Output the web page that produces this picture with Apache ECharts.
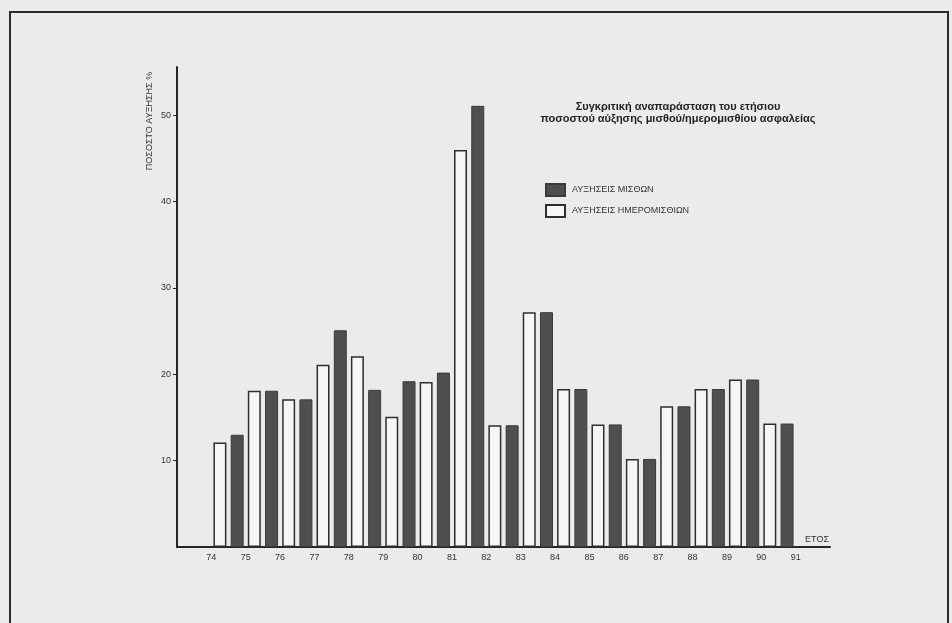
<!DOCTYPE html>
<html>
<head>
<meta charset="utf-8">
<script src="https://cdn.jsdelivr.net/npm/echarts@6/dist/echarts.min.js"></script>
<style>
  html, body { margin: 0; padding: 0; background: #ebebe9; }
  #chart { width: 952px; height: 623px; }
</style>
</head>
<body>
<div id="chart"></div>
<script>
// Tick labels on the year axis (boundaries between the yearly periods)
const years = ['74','75','76','77','78','79','80','81','82','83','84','85','86','87','88','89','90','91'];
// Periods (one pair of bars each), padded with an empty slot at each end of the axis
const periods = ['', '74-75','75-76','76-77','77-78','78-79','79-80','80-81','81-82','82-83','83-84','84-85','85-86','86-87','87-88','88-89','89-90','90-91', ''];
// Annual % increase of wages (ΜΙΣΘΩΝ) – dark bars
const salaries = [13.0, 18.1, 17.1, 25.1, 18.2, 19.2, 20.2, 51.1, 14.1, 27.2, 18.3, 14.2, 10.2, 16.3, 18.3, 19.4, 14.3];
// Annual % increase of daily wages (ΗΜΕΡΟΜΙΣΘΙΩΝ) – white bars
const dailyWages = [12.1, 18.1, 17.1, 21.1, 22.1, 15.1, 19.1, 46.0, 14.1, 27.2, 18.3, 14.2, 10.2, 16.3, 18.3, 19.4, 14.3];
const yTicks = [10, 20, 30, 40, 50];

const pad = arr => [null].concat(arr, [null]);

const FONT = '"Liberation Sans", Arial, sans-serif';
const INK = '#262626';

const chart = echarts.init(document.getElementById('chart'), null, { renderer: 'canvas' });
chart.setOption({
  backgroundColor: '#ebebe9',
  animation: false,
  textStyle: { fontFamily: FONT },
  title: {
    text: 'Συγκριτική αναπαράσταση του ετήσιου\nποσοστού αύξησης μισθού/ημερομισθίου ασφαλείας',
    left: 673,
    top: 96,
    textAlign: 'center',
    textStyle: { fontFamily: FONT, fontSize: 11, fontWeight: 'bold', color: '#222', lineHeight: 12 }
  },
  legend: {
    orient: 'vertical',
    left: 540,
    top: 178,
    icon: 'rect',
    itemWidth: 19,
    itemHeight: 12,
    itemGap: 7,
    data: ['ΑΥΞΗΣΕΙΣ ΜΙΣΘΩΝ', 'ΑΥΞΗΣΕΙΣ ΗΜΕΡΟΜΙΣΘΙΩΝ'],
    textStyle: { fontFamily: FONT, fontSize: 9, color: '#333', padding: [0, 0, 0, 2] }
  },
  grid: { left: 177, right: 122, top: 67, bottom: 76, containLabel: false },
  xAxis: [
    {
      type: 'category',
      data: periods,
      boundaryGap: true,
      axisLine: { lineStyle: { color: INK, width: 2 } },
      axisTick: { show: false },
      axisLabel: { show: false },
      splitLine: { show: false },
      name: 'ΕΤΟΣ',
      nameLocation: 'end',
      nameGap: 0,
      nameTextStyle: { fontFamily: FONT, fontSize: 9, color: '#333', align: 'right', verticalAlign: 'bottom', padding: [0, 1, 3, 0] }
    },
    {
      type: 'value',
      position: 'bottom',
      min: 0,
      max: periods.length,
      interval: 1,
      axisLine: { show: false },
      axisTick: { show: false },
      splitLine: { show: false },
      axisLabel: {
        margin: 6,
        fontSize: 9,
        color: '#333',
        fontFamily: FONT,
        showMinLabel: false,
        showMaxLabel: false,
        formatter: v => (v >= 1 && v <= years.length) ? years[v - 1] : ''
      }
    }
  ],
  yAxis: {
    type: 'value',
    min: 0,
    max: 55.6,
    interval: 10,
    axisLine: { show: true, lineStyle: { color: INK, width: 2 } },
    axisTick: { show: true, length: 4, customValues: yTicks, lineStyle: { color: INK, width: 1 } },
    splitLine: { show: false },
    axisLabel: {
      margin: 6,
      fontSize: 9,
      color: '#333',
      fontFamily: FONT,
      customValues: yTicks,
      formatter: v => yTicks.indexOf(v) >= 0 ? String(v) : ''
    }
  },
  graphic: [
    {
      type: 'rect',
      silent: true,
      shape: { x: 10, y: 12, width: 938, height: 640 },
      style: { fill: 'none', stroke: '#2a2a2a', lineWidth: 2 }
    },
    {
      type: 'text',
      silent: true,
      x: 150,
      y: 121,
      rotation: Math.PI / 2,
      style: {
        text: 'ΠΟΣΟΣΤΟ ΑΥΞΗΣΗΣ %',
        font: '9px ' + FONT,
        fill: '#333',
        textAlign: 'center',
        textVerticalAlign: 'middle'
      }
    }
  ],
  series: [
    {
      name: 'ΑΥΞΗΣΕΙΣ ΗΜΕΡΟΜΙΣΘΙΩΝ',
      type: 'bar',
      xAxisIndex: 0,
      data: pad(dailyWages),
      barGap: '33%',
      barCategoryGap: '12%',
      itemStyle: { color: '#f6f6f4', borderColor: '#2e2e2e', borderWidth: 1.5 }
    },
    {
      name: 'ΑΥΞΗΣΕΙΣ ΜΙΣΘΩΝ',
      type: 'bar',
      xAxisIndex: 0,
      data: pad(salaries),
      barGap: '33%',
      barCategoryGap: '12%',
      itemStyle: { color: '#4f4f4f', borderColor: '#3a3a3a', borderWidth: 1 }
    }
  ]
});
</script>
</body>
</html>
